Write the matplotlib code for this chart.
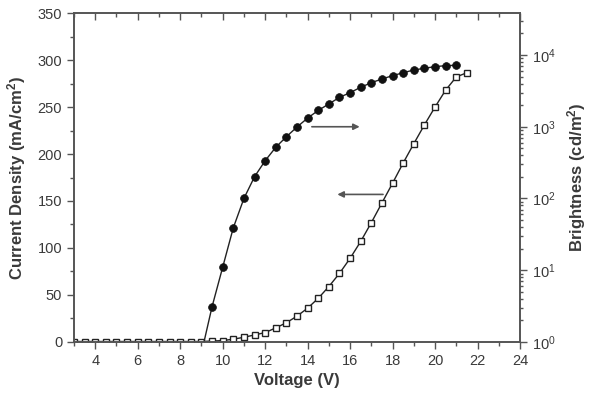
import matplotlib
matplotlib.use("Agg")
import matplotlib.pyplot as plt
from matplotlib.ticker import MultipleLocator, LogLocator, NullFormatter

plt.rcParams['font.family'] = ['Liberation Sans', 'DejaVu Sans']
plt.rcParams['mathtext.fontset'] = 'custom'
plt.rcParams['mathtext.rm'] = 'Liberation Sans'
plt.rcParams['mathtext.it'] = 'Liberation Sans:italic'
plt.rcParams['mathtext.bf'] = 'Liberation Sans:bold'

# current density (open squares, left axis)
voltage_j = [3.0, 3.5, 4.0, 4.5, 5.0, 5.5, 6.0, 6.5, 7.0, 7.5, 8.0, 8.5, 9.0,
             9.5, 10.0, 10.5, 11.0, 11.5, 12.0, 12.5, 13.0, 13.5, 14.0, 14.5,
             15.0, 15.5, 16.0, 16.5, 17.0, 17.5, 18.0, 18.5, 19.0, 19.5, 20.0,
             20.5, 21.0, 21.5]
current = [0.5, 0.5, 0.5, 0.5, 0.5, 0.5, 0.5, 0.5, 0.5, 0.5, 0.5, 0.5, 0.5,
           1.0, 1.5, 3.0, 5.0, 7.5, 10.0, 15.0, 20.5, 27.5, 36.0, 46.5,
           59.0, 73.0, 89.0, 107.0, 127.0, 148.0, 169.0, 190.5, 211.0, 231.0,
           250.0, 268.0, 282.0, 286.5]

# brightness (filled circles, right axis)
voltage_b = [9.0, 9.5, 10.0, 10.5, 11.0, 11.5, 12.0, 12.5, 13.0, 13.5, 14.0,
             14.5, 15.0, 15.5, 16.0, 16.5, 17.0, 17.5, 18.0, 18.5, 19.0, 19.5,
             20.0, 20.5, 21.0]
brightness = [0.7, 3.1, 11, 39, 100, 201, 336, 517, 726, 992, 1320,
              1690, 2076, 2570, 2985, 3550, 4110, 4630, 5150, 5660, 6180, 6530,
              6880, 7100, 7190]

txt = '#3a3a3a'
spine = '#555555'

fig = plt.figure(figsize=(5.93, 4.03), dpi=100)
ax = fig.add_axes([0.1248, 0.1514, 0.7521, 0.8163])
ax2 = ax.twinx()

ax.plot(voltage_j, current, '-s', color='#222222', lw=1.0, ms=4.6,
        mfc='white', mec='#222222', mew=1.0)
ax2.plot(voltage_b, brightness, '-o', color='#222222', lw=1.0, ms=5.6,
         mfc='#111111', mec='#111111', mew=0.5)

ax.set_xlim(3, 24)
ax.set_ylim(0, 350)
ax2.set_yscale('log')
ax2.set_ylim(1, 10**4.585)

ax.xaxis.set_major_locator(MultipleLocator(2))
ax.xaxis.set_minor_locator(MultipleLocator(1))
ax.yaxis.set_major_locator(MultipleLocator(50))
ax.yaxis.set_minor_locator(MultipleLocator(25))
ax2.yaxis.set_major_locator(LogLocator(base=10, numticks=10))
ax2.yaxis.set_minor_locator(LogLocator(base=10, subs=range(2, 10), numticks=10))
ax2.yaxis.set_minor_formatter(NullFormatter())

for a in (ax, ax2):
    for s in a.spines.values():
        s.set_color(spine)
        s.set_linewidth(1.2)

ax.tick_params(axis='both', which='major', direction='out', length=5, width=1,
               color=spine, labelcolor=txt, labelsize=10.5)
ax.tick_params(axis='both', which='minor', direction='out', length=3, width=1,
               color=spine)
ax2.tick_params(axis='y', which='major', direction='out', length=5, width=1,
                color=spine, labelcolor=txt, labelsize=10.5)
ax2.tick_params(axis='y', which='minor', direction='out', length=2.5, width=1,
                color=spine)

# top ticks point inward
ax_top = ax.twiny()
ax_top.set_xlim(ax.get_xlim())
ax_top.xaxis.set_major_locator(MultipleLocator(2))
ax_top.xaxis.set_minor_locator(MultipleLocator(1))
ax_top.tick_params(axis='x', which='both', direction='in', labeltop=False,
                   color=spine, width=1)
ax_top.tick_params(axis='x', which='major', length=5)
ax_top.tick_params(axis='x', which='minor', length=3)
for s in ax_top.spines.values():
    s.set_visible(False)

ax.set_xlabel('Voltage (V)', fontsize=12, fontweight='bold', color=txt, labelpad=4)
ax.set_ylabel(r'Current Density (mA/cm$^\mathbf{2}$)', fontsize=12,
              fontweight='bold', color=txt, labelpad=7)
ax2.set_ylabel(r'Brightness (cd/m$^\mathbf{2}$)', fontsize=12,
               fontweight='bold', color=txt, labelpad=7)

arrow = dict(arrowstyle='-|>', color='#555555', lw=1.2, mutation_scale=9,
             shrinkA=0, shrinkB=0)
ax.annotate('', xy=(16.45, 229), xytext=(14.2, 229), arrowprops=arrow)
ax.annotate('', xy=(15.4, 157), xytext=(17.55, 157), arrowprops=arrow)

fig.savefig('out.png', dpi=100)
